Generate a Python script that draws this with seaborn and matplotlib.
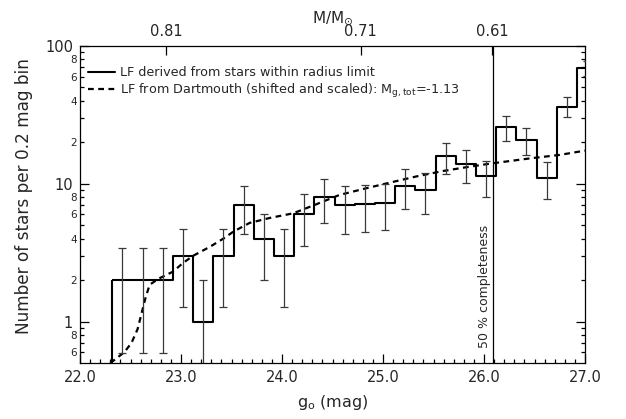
import numpy as np
import pandas as pd
import matplotlib
matplotlib.use("Agg")
import matplotlib.pyplot as plt
from matplotlib.lines import Line2D
from matplotlib.ticker import FixedLocator, FixedFormatter
import seaborn as sns

# ---------------- data ----------------
bin_edges = [22.32, 22.52, 22.72, 22.92, 23.12, 23.32, 23.52, 23.72, 23.92, 24.12,
             24.32, 24.52, 24.72, 24.92, 25.12, 25.32, 25.52, 25.72, 25.92, 26.12,
             26.32, 26.52, 26.72, 26.92, 27.12]
bin_centers = [22.42, 22.62, 22.82, 23.02, 23.22, 23.42, 23.62, 23.82, 24.02, 24.22,
               24.42, 24.62, 24.82, 25.02, 25.22, 25.42, 25.62, 25.82, 26.02, 26.22,
               26.42, 26.62, 26.82, 27.02]
lf_counts = [2.0, 2.0, 2.0, 3.0, 1.0, 3.0, 7.0, 4.0, 3.0, 6.0,
             8.0, 7.0, 7.15, 7.3, 9.7, 9.0, 15.8, 13.8, 11.3, 25.7,
             20.8, 11.0, 36.3, 69.0]
lf_errors = [1.41, 1.41, 1.41, 1.73, 1.0, 1.73, 2.65, 2.0, 1.73, 2.45,
             2.83, 2.65, 2.67, 2.7, 3.1, 3.0, 3.95, 3.7, 3.35, 5.1,
             4.55, 3.3, 6.0, 8.3]

model_g = [22.30, 22.36, 22.44, 22.51, 22.57, 22.61, 22.65, 22.69, 22.78, 22.92,
           23.02, 23.12, 23.29, 23.42, 23.52, 23.68, 23.88, 24.11, 24.34, 24.57,
           24.84, 25.07, 25.33, 25.60, 25.83, 26.06, 26.46, 26.75, 27.00]
model_lf = [0.50, 0.54, 0.60, 0.70, 0.88, 1.15, 1.50, 1.85, 2.05, 2.30,
            2.66, 3.00, 3.50, 4.00, 4.50, 5.20, 5.65, 6.10, 7.10, 8.30,
            9.30, 10.2, 11.3, 12.4, 13.2, 14.0, 15.3, 16.2, 17.4]

completeness_50 = 26.09
mass_tick_g = [22.85, 24.78, 26.08]
mass_tick_labels = ["0.81", "0.71", "0.61"]

x_major = [22.0, 23.0, 24.0, 25.0, 26.0, 27.0]
x_major_labels = ["22.0", "23.0", "24.0", "25.0", "26.0", "27.0"]
y_major = [1, 10, 100]
y_major_labels = ["1", "10", "100"]
y_minor = [0.6, 0.7, 0.8, 0.9, 2, 3, 4, 5, 6, 7, 8, 9, 20, 30, 40, 50, 60, 70, 80, 90]
y_minor_labels = ["6", "", "8", "", "2", "", "4", "", "6", "", "8", "",
                  "2", "", "4", "", "6", "", "8", ""]

legend_labels = ["LF derived from stars within radius limit",
                 "LF from Dartmouth (shifted and scaled): M$_{\\mathregular{g,tot}}$=-1.13"]

# ---------------- style ----------------
sns.set_theme(style="ticks")
plt.rcParams["font.family"] = ["DejaVu Sans"]
plt.rcParams["mathtext.default"] = "regular"

W, H = 626, 419
fig = plt.figure(figsize=(W / 100, H / 100), dpi=100)
L, R, T, B = 80, 585, 46, 363
ax = fig.add_axes([L / W, 1 - B / H, (R - L) / W, (B - T) / H])

df_lf = pd.DataFrame({"g": bin_centers, "n": lf_counts})
sns.histplot(data=df_lf, x="g", weights="n", bins=bin_edges, element="step",
             fill=True, facecolor="none", edgecolor="black", color="black",
             alpha=1, linewidth=1.5, ax=ax)

ax.errorbar(bin_centers, lf_counts, yerr=lf_errors, fmt="none", ecolor="#3a3a3a",
            elinewidth=0.9, capsize=2.9, capthick=0.9, zorder=3)

df_model = pd.DataFrame({"g": model_g, "n": model_lf})
sns.lineplot(data=df_model, x="g", y="n", color="black", linewidth=1.6,
             linestyle=(0, (2.6, 2.0)), ax=ax, sort=True)

ax.axvline(completeness_50, color="black", linewidth=0.9)

ax.set_yscale("log")
ax.set_xlim(22.0, 27.0)
ax.set_ylim(0.5, 100)

ax.xaxis.set_major_locator(FixedLocator(x_major))
ax.xaxis.set_major_formatter(FixedFormatter(x_major_labels))
ax.xaxis.set_minor_locator(FixedLocator(list(np.arange(22.0, 27.001, 0.1))))
ax.yaxis.set_major_locator(FixedLocator(y_major))
ax.yaxis.set_major_formatter(FixedFormatter(y_major_labels))
ax.yaxis.set_minor_locator(FixedLocator(y_minor))
ax.yaxis.set_minor_formatter(FixedFormatter(y_minor_labels))

ax.tick_params(which="both", direction="in", top=False, right=True, color="black",
               width=0.9)
ax.tick_params(which="major", length=6.5, labelsize=10.5, pad=5)
ax.tick_params(which="minor", length=3.0)
ax.tick_params(axis="y", which="minor", labelsize=7.5, pad=2)
for s in ax.spines.values():
    s.set_color("black")
    s.set_linewidth(0.9)

ax.set_xlabel("g$_\\mathregular{o}$ (mag)", fontsize=11.5, labelpad=6)
ax.set_ylabel("Number of stars per 0.2 mag bin", fontsize=12.2)
ax.yaxis.set_label_coords(-0.093, 0.527)

ax2 = ax.twiny()
ax2.set_xlim(ax.get_xlim())
ax2.set_xticks(mass_tick_g)
ax2.set_xticklabels(mass_tick_labels)
ax2.xaxis.set_minor_locator(FixedLocator([]))
ax2.tick_params(which="major", direction="in", length=6.5, labelsize=10.5,
                width=0.9, color="black", pad=5)
ax2.set_xlabel("M/M$_{\\odot}$", fontsize=11, labelpad=1.5)
for s in ax2.spines.values():
    s.set_visible(False)

ax.annotate("50 % completeness", xy=(completeness_50, 0.5), xytext=(-1.5, 11),
            textcoords="offset points", rotation=90, ha="right", va="bottom",
            fontsize=9)

handles = [Line2D([], [], color="black", linewidth=1.5),
           Line2D([], [], color="black", linewidth=1.6, linestyle=(0, (2.6, 2.0)))]
ax.legend(handles, legend_labels, loc="upper left", frameon=False, fontsize=9.2,
          handlelength=2.1, handletextpad=0.45, borderaxespad=0.2,
          labelspacing=0.18, bbox_to_anchor=(0.0, 0.96))

fig.savefig("out.png", dpi=100)
